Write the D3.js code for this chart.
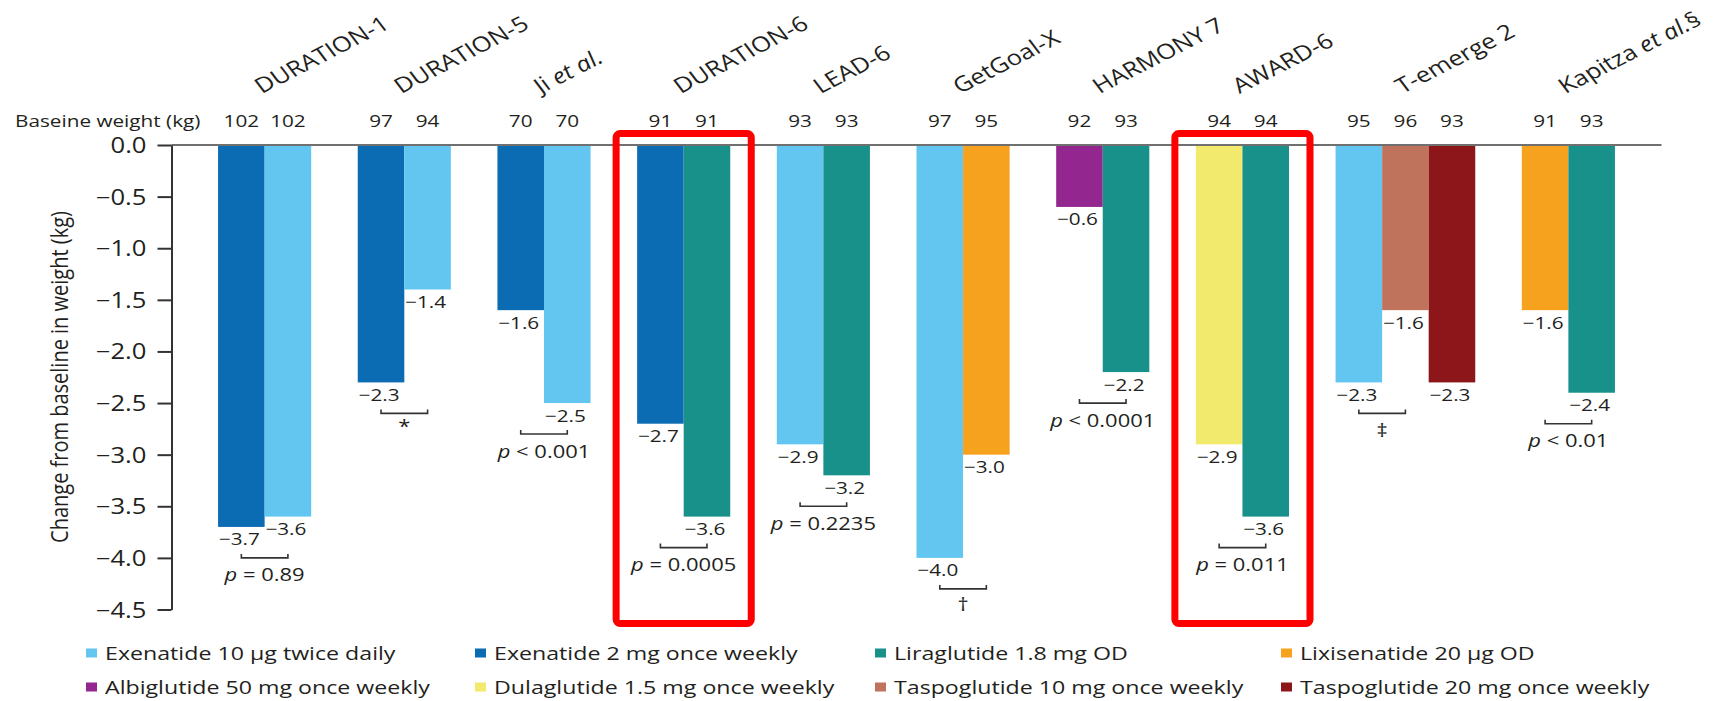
<!DOCTYPE html>
<html>
<head>
<meta charset="utf-8">
<script src="https://cdn.jsdelivr.net/npm/d3@7"></script>
<style>
  html, body { margin: 0; padding: 0; background: #ffffff; }
  svg { display: block; font-family: "Open Sans", "Noto Sans", sans-serif; }
</style>
</head>
<body>
<svg id="chart" width="1722" height="701"></svg>
<script>
// ---- Data -------------------------------------------------------------
const studies = ["DURATION-1", "DURATION-5", "Ji et al.", "DURATION-6", "LEAD-6",
                 "GetGoal-X", "HARMONY 7", "AWARD-6", "T-emerge 2", "Kapitza et al.§"];

const treatments = [
  ["exeOW", "exeBID"], ["exeOW", "exeBID"], ["exeOW", "exeBID"], ["exeOW", "lira"],
  ["exeBID", "lira"], ["exeBID", "lixi"], ["albi", "lira"], ["dula", "lira"],
  ["exeBID", "tasp10", "tasp20"], ["lixi", "lira"]
];

// change from baseline in weight (kg)
const weightChange = [
  [-3.7, -3.6], [-2.3, -1.4], [-1.6, -2.5], [-2.7, -3.6], [-2.9, -3.2],
  [-4.0, -3.0], [-0.6, -2.2], [-2.9, -3.6], [-2.3, -1.6, -2.3], [-1.6, -2.4]
];

// baseline weight (kg)
const baselineWeight = [
  [102, 102], [97, 94], [70, 70], [91, 91], [93, 93],
  [97, 95], [92, 93], [94, 94], [95, 96, 93], [91, 93]
];

const comparisons = ["p = 0.89", "*", "p < 0.001", "p = 0.0005", "p = 0.2235",
                     "†", "p < 0.0001", "p = 0.011", "‡", "p < 0.01"];

const highlighted = ["DURATION-6", "AWARD-6"];

const drugKeys   = ["exeBID", "exeOW", "lira", "lixi", "albi", "dula", "tasp10", "tasp20"];
const drugNames  = ["Exenatide 10 μg twice daily", "Exenatide 2 mg once weekly",
                    "Liraglutide 1.8 mg OD", "Lixisenatide 20 μg OD",
                    "Albiglutide 50 mg once weekly", "Dulaglutide 1.5 mg once weekly",
                    "Taspoglutide 10 mg once weekly", "Taspoglutide 20 mg once weekly"];
const drugColors = ["#63c6f0", "#0b6cb4", "#18918b", "#f6a21f",
                    "#93278f", "#f2ea6c", "#c0735c", "#8c1619"];

const yTicks = [0, -0.5, -1.0, -1.5, -2.0, -2.5, -3.0, -3.5, -4.0, -4.5];

// ---- Setup ------------------------------------------------------------
const S = 1.22;               // horizontal stretch applied to all lettering
const ink = "#231f20";
const svg = d3.select("#chart");
const color = d3.scaleOrdinal().domain(drugKeys).range(drugColors);
const fmt = d3.format(".1f");

// lay the bars out in equal slots, one empty slot between studies
let slot = 0;
const groups = studies.map((name, i) => {
  const g = {
    name,
    start: slot,
    n: treatments[i].length,
    note: comparisons[i],
    bars: treatments[i].map((drug, j) => ({
      drug, value: weightChange[i][j], weight: baselineWeight[i][j], slot: slot + j
    }))
  };
  slot += g.n + 1;
  return g;
});

const x = d3.scaleLinear().domain([-1, slot]).range([171.5, 1661.5]);
const y = d3.scaleLinear().domain([0, -4.5]).range([145, 609.5]);
const slotW = x(1) - x(0);

// text helper: stretched lettering placed at (px, py), optional rotation
function stretchedText(parent, px, py, size, rot) {
  return parent.append("text")
    .attr("transform", `translate(${px},${py}) scale(${S},1)` + (rot ? ` rotate(${rot})` : ""))
    .attr("font-size", size)
    .attr("fill", ink);
}

// ---- Bars -------------------------------------------------------------
const allBars = groups.flatMap(g => g.bars);
svg.append("g").selectAll("rect")
  .data(allBars)
  .join("rect")
  .attr("x", d => x(d.slot))
  .attr("width", slotW)
  .attr("y", y(0))
  .attr("height", d => y(d.value) - y(0))
  .attr("fill", d => color(d.drug));

// zero line
svg.append("line")
  .attr("x1", x(-1)).attr("x2", x(slot))
  .attr("y1", y(0)).attr("y2", y(0))
  .attr("stroke", "#707070").attr("stroke-width", 2);

// ---- Y axis -----------------------------------------------------------
const yAxis = svg.append("g")
  .attr("transform", `translate(${x(-1)},0)`)
  .call(d3.axisLeft(y).tickValues(yTicks).tickFormat(fmt).tickSize(14).tickSizeOuter(0).tickPadding(11));
yAxis.select(".domain").attr("stroke", "#333").attr("stroke-width", 2);
yAxis.selectAll(".tick line").attr("stroke", "#333").attr("stroke-width", 2);
yAxis.selectAll(".tick text")
  .attr("x", null).attr("dy", null)
  .attr("transform", `translate(-25,7.5) scale(${S},1)`)
  .attr("font-size", 21)
  .attr("font-family", "'Open Sans', sans-serif")
  .attr("fill", ink);

stretchedText(svg, 68, 377, 20, -90)
  .attr("text-anchor", "middle")
  .text("Change from baseline in weight (kg)");

// ---- Header: study names and baseline weights -------------------------
stretchedText(svg, 15, 127, 17).text("Baseine weight (kg)");

groups.forEach(g => {
  const cx = x(g.start + g.n / 2);
  const t = stretchedText(svg, cx - 3, 94, 21, -32);
  const parts = g.name.split(/(et al\.)/);
  parts.filter(p => p.length).forEach(p => {
    t.append("tspan").attr("font-style", p === "et al." ? "italic" : null).text(p);
  });

  g.bars.forEach(b => {
    stretchedText(svg, x(b.slot + 0.5), 127, 17)
      .attr("text-anchor", "middle")
      .text(b.weight);
  });
});

// ---- Value labels -----------------------------------------------------
allBars.forEach(b => {
  stretchedText(svg, x(b.slot + 0.5) - 2, y(b.value) + 18.5, 17)
    .attr("text-anchor", "middle")
    .text(fmt(b.value));
});

// ---- Comparison brackets and p values ---------------------------------
const symbolDrop = { "*": 20, "†": 22, "‡": 24 };
groups.forEach(g => {
  const [b0, b1] = g.bars;
  const x1 = x(b0.slot + 0.5), x2 = x(b1.slot + 0.5);
  const yb = y(Math.min(b0.value, b1.value)) + 31;
  svg.append("path")
    .attr("d", `M${x1},${yb - 4}V${yb}H${x2}V${yb - 4}`)
    .attr("fill", "none").attr("stroke", "#333").attr("stroke-width", 1.6);
  const mid = (x1 + x2) / 2;
  if (g.note.startsWith("p")) {
    const t = stretchedText(svg, mid, yb + 23.5, 18).attr("text-anchor", "middle");
    t.append("tspan").attr("font-style", "italic").text("p");
    t.append("tspan").text(g.note.slice(1));
  } else {
    stretchedText(svg, mid, yb + (symbolDrop[g.note] || 20), 18)
      .attr("text-anchor", "middle")
      .text(g.note);
  }
});

// ---- Highlight boxes --------------------------------------------------
groups.filter(g => highlighted.includes(g.name)).forEach(g => {
  svg.append("rect")
    .attr("x", x(g.start) - 21)
    .attr("width", g.n * slotW + 42)
    .attr("y", 133.5)
    .attr("height", 490)
    .attr("rx", 4)
    .attr("fill", "none")
    .attr("stroke", "#ff0000")
    .attr("stroke-width", 7);
});

// ---- Legend -----------------------------------------------------------
const legendCols = [86, 475, 875, 1281];
const legendRows = [653, 687];
const legend = svg.append("g");
drugKeys.forEach((k, i) => {
  const lx = legendCols[i % 4], ly = legendRows[Math.floor(i / 4)];
  legend.append("rect")
    .attr("x", lx).attr("y", ly - 4.5)
    .attr("width", 11).attr("height", 9)
    .attr("fill", color(k));
  stretchedText(legend, lx + 19, ly + 6.8, 19).text(drugNames[i]);
});
</script>
</body>
</html>
